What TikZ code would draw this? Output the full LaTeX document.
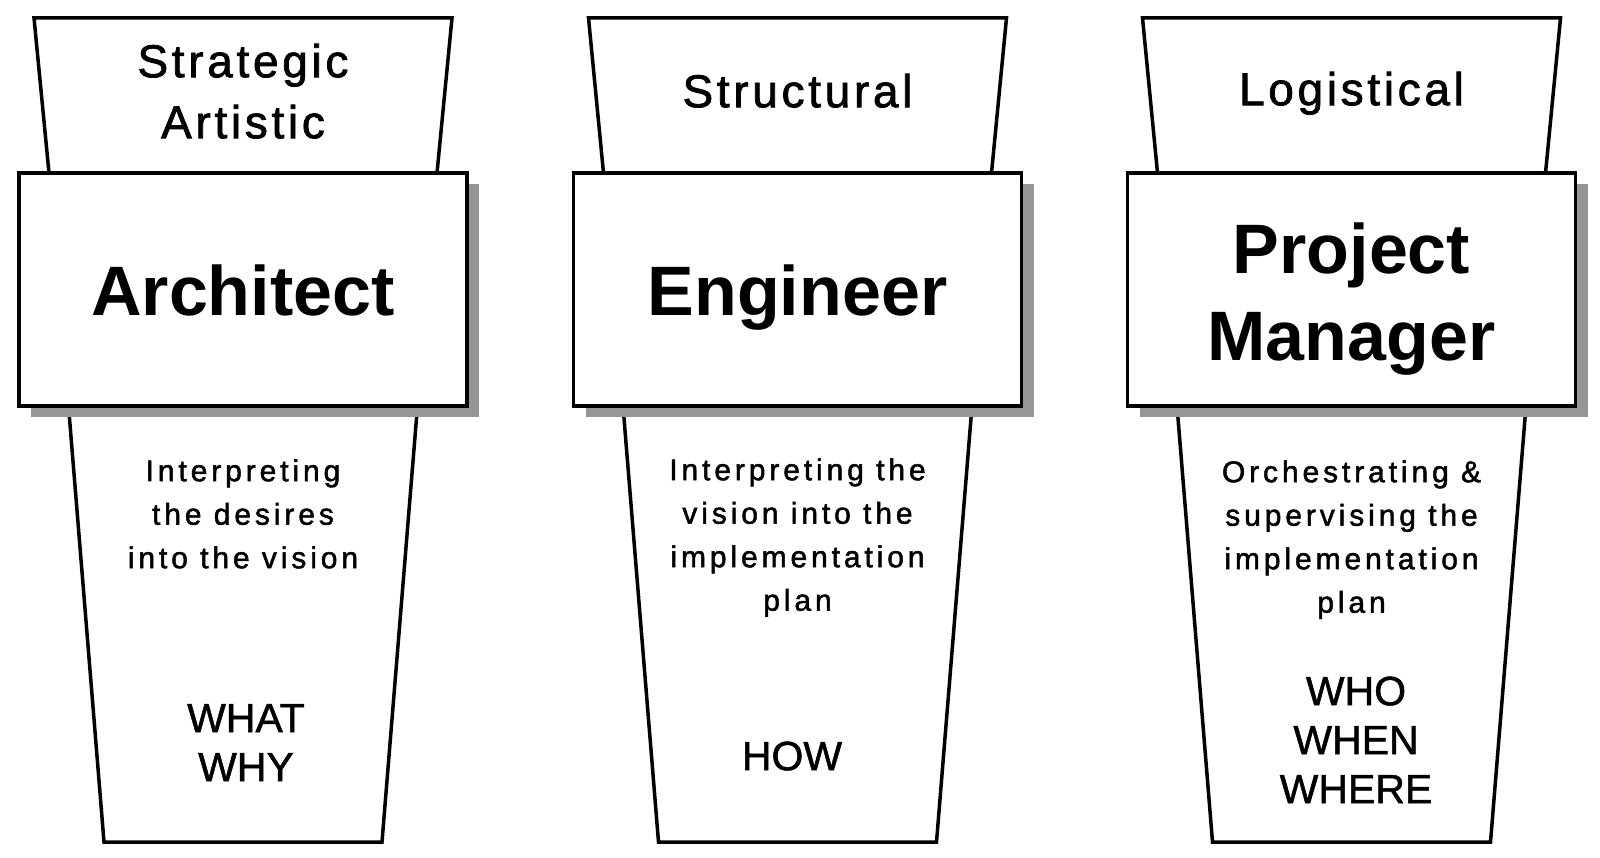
\documentclass[tikz,border=0pt]{standalone}
\usepackage{fontspec}
\setmainfont{Liberation Sans}
\newfontfamily\topfont[LetterSpace=8,FakeBold=1.6]{Liberation Sans}
\newfontfamily\descfont[LetterSpace=13,FakeBold=1.6]{Liberation Sans}
\newfontfamily\keyfont[FakeBold=1.2]{Liberation Sans}
\definecolor{shadowgray}{RGB}{150,150,150}
\newcommand\firstline[1]{\rule{0pt}{#1}}
\tikzset{
  outline/.style={draw=black, line width=3.5pt, fill=white, line join=miter},
  dropshadow/.style={fill=shadowgray, draw=none},
  toptext/.style={font=\topfont\fontsize{46}{61}\selectfont, align=center, inner sep=0pt, anchor=north},
  titletext/.style={font=\bfseries\fontsize{70}{87}\selectfont, align=center, inner sep=0pt, anchor=north},
  desctext/.style={font=\descfont\fontsize{30}{43.5}\selectfont, align=center, inner sep=0pt, anchor=north},
  keytext/.style={font=\keyfont\fontsize{41}{49}\selectfont, align=center, inner sep=0pt, anchor=north},
}
\begin{document}
\begin{tikzpicture}[x=1pt, y=-1pt]
\useasboundingbox[fill=white] (0,0) rectangle (1600,858);

% ---------- Architect ----------
\draw[outline] (243-174.5,406) -- (243+174.5,406) -- (243+139,842) -- (243-139,842) -- cycle;
\draw[outline] (243-209,18) -- (243+209,18) -- (243+194,173) -- (243-194,173) -- cycle;
\fill[dropshadow] (243-224+12,173+11) rectangle (243+224+12,406+11);
\draw[outline] (243-224,173) rectangle (243+224,406);
\node[toptext] (archTop) at (243,37) {\firstline{40pt}Strategic\\Artistic};
\node[titletext] (archTitle) at (243,255) {\firstline{60pt}Architect};
\node[desctext] (archDesc) at (243,455) {\firstline{26pt}Interpreting\\the desires\\into the vision};
\node[keytext] (archKeys) at (246,696) {\firstline{36pt}WHAT\\WHY};

% ---------- Engineer ----------
\draw[outline] (797.5-174.5,406) -- (797.5+174.5,406) -- (797.5+139,842) -- (797.5-139,842) -- cycle;
\draw[outline] (797.5-209,18) -- (797.5+209,18) -- (797.5+194,173) -- (797.5-194,173) -- cycle;
\fill[dropshadow] (797.5-224+12,173+11) rectangle (797.5+224+12,406+11);
\draw[outline] (797.5-224,173) rectangle (797.5+224,406);
\node[toptext] (engTop) at (797.5,67) {\firstline{40pt}Structural};
\node[titletext] (engTitle) at (797.5,255) {\firstline{60pt}Engineer};
\node[desctext] (engDesc) at (797.5,454) {\firstline{26pt}Interpreting the\\vision into the\\implementation\\plan};
\node[keytext] (engKeys) at (792,734) {\firstline{36pt}HOW};

% ---------- Project Manager ----------
\draw[outline] (1351.5-174.5,406) -- (1351.5+174.5,406) -- (1351.5+139,842) -- (1351.5-139,842) -- cycle;
\draw[outline] (1351.5-209,18) -- (1351.5+209,18) -- (1351.5+194,173) -- (1351.5-194,173) -- cycle;
\fill[dropshadow] (1351.5-224+12,173+11) rectangle (1351.5+224+12,406+11);
\draw[outline] (1351.5-224,173) rectangle (1351.5+224,406);
\node[toptext] (pmTop) at (1351.5,65) {\firstline{40pt}Logistical};
\node[titletext] (pmTitle) at (1351.5,213) {\firstline{60pt}Project\\Manager};
\node[desctext] (pmDesc) at (1351.5,456) {\firstline{26pt}Orchestrating \&\\supervising the\\implementation\\plan};
\node[keytext] (pmKeys) at (1356,669) {\firstline{36pt}WHO\\WHEN\\WHERE};
\end{tikzpicture}
\end{document}
